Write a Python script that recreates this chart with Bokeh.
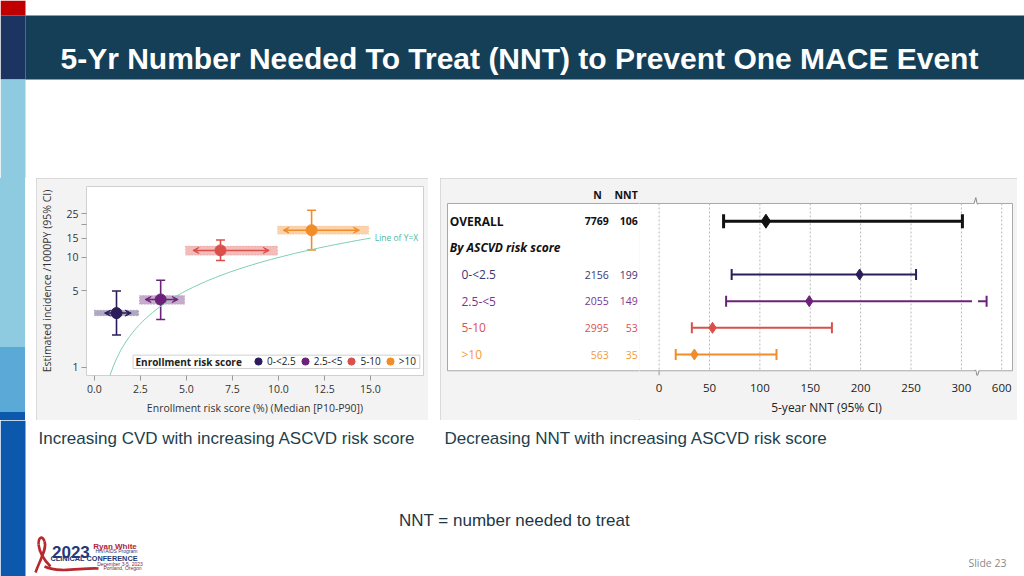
import numpy as np
from bokeh.plotting import figure
from bokeh.models import (Range1d, FixedTicker, Label, BoxAnnotation, Legend, LegendItem,
                          ColumnDataSource, Arrow, VeeHead, Spacer, NumeralTickFormatter,
                          BasicTickFormatter)
from bokeh.layouts import column, row
from bokeh.embed import file_html
from bokeh.resources import INLINE
from bokeh.core.properties import value

# ------------------------------------------------------------------ texts
TITLE = "5-Yr Number Needed To Treat (NNT) to Prevent One MACE Event"
caption_left = "Increasing CVD with increasing ASCVD risk score"
caption_right = "Decreasing NNT with increasing ASCVD risk score"
footnote = "NNT = number needed to treat"
slide_no = "Slide 23"

# ------------------------------------------------------------------ left chart data
risk_groups = ["0-<2.5", "2.5-<5", "5-10", ">10"]
median_risk = [1.2, 3.6, 6.85, 11.8]
p10_risk = [0.55, 2.75, 5.35, 10.25]
p90_risk = [2.0, 4.55, 9.5, 14.4]
incidence = [3.12, 4.15, 11.6, 17.7]
inc_ci_low = [1.97, 2.73, 9.4, 11.7]
inc_ci_high = [4.95, 6.2, 14.4, 26.9]
cloud_x_min = [0.0, 2.45, 4.95, 9.95]
cloud_x_max = [2.4, 4.9, 9.95, 14.9]
cloud_y_low = [2.95, 3.75, 10.5, 16.3]
cloud_y_high = [3.32, 4.5, 12.7, 19.3]
x_ticks_left = [0, 2.5, 5, 7.5, 10, 12.5, 15]
y_ticks_left = [1, 5, 10, 15, 20, 25]
identity_x = np.linspace(0.84, 15.0, 80)   # reference line Y = X

# ------------------------------------------------------------------ right chart data
fp_labels = ["OVERALL", "By ASCVD risk score", "0-<2.5", "2.5-<5", "5-10", ">10"]
fp_n_txt = ["7769", "", "2156", "2055", "2995", "563"]
fp_nnt_txt = ["106", "", "199", "149", "53", "35"]
fp_rows = [0, 2, 3, 4, 5]
fp_nnt = [106, 199, 149, 53, 35]
fp_lo = [64, 72, 66.5, 32.5, 16.5]
fp_hi = [301, 255, 540, 171.5, 116.5]
nnt_ticks = [0, 50, 100, 150, 200, 250, 300, 600]

# ------------------------------------------------------------------ styles
FONT = "Open Sans"
group_colors = ["#2b1d5c", "#6c2279", "#d9504a", "#f28c28"]
fp_colors = ["#111111", "#2b1d5c", "#6c2279", "#d9504a", "#f28c28"]
label_colors = ["#111111", "#111111", "#3b3576", "#7a3590", "#d9534f", "#f39a3a"]
PANEL = "#f3f3f3"
PANEL_STYLE = {"outline": "1px solid #d2d2d2", "outline-offset": "-1px"}
BOX_LINE = "#a8a8a8"

AXIS_BREAK = 315.0
BOX_TOP, BOX_BOTTOM = -0.664, 5.61       # inner white box of the forest plot (row units)
BOX_LEFT, BOX_RIGHT = -210.0, 350.7      # (axis units)
ROWS_RANGE = (5.787, -1.301)
SPLIT = -19.45                           # table | plot boundary (axis units)


def nnt_pos(v):
    """position on the broken NNT axis (segment above the break compressed)"""
    return v if v <= AXIS_BREAK else AXIS_BREAK + (v - 500.0) * 0.25


def deco_fig(w, h, xr, yr):
    f = figure(width=w, height=h, x_range=Range1d(*xr), y_range=Range1d(*yr),
               x_axis_type=None, y_axis_type=None, min_border=0,
               outline_line_color=None, toolbar_location=None, output_backend="svg",
               background_fill_color="white", border_fill_color="white")
    f.grid.visible = False
    return f


# ------------------------------------------------------------------ top band
pt = deco_fig(1024, 178, (0, 1024), (178, 0))
pt.quad(left=[0, 0, 0], right=[25, 25, 25], top=[0, 15, 79], bottom=[15, 79, 178],
        fill_color=["#c00000", "#1c3461", "#8fcbe0"], line_color=None)
pt.quad(left=[25], right=[1024], top=[15], bottom=[79], fill_color="#153f57", line_color=None)
pt.text(x=[60], y=[58], text=[TITLE], text_font=value("Liberation Sans"),
        text_font_style="bold", text_font_size="30px", text_color="white",
        text_baseline="alphabetic", text_align="left")

# ------------------------------------------------------------------ strip beside the charts
strip = Spacer(width=36, height=242, styles={
    "background-image": "linear-gradient(to bottom, #8fcbe0 0px, #8fcbe0 169px, "
                        "#5aa9d6 169px, #5aa9d6 234px, #0b58ad 234px, #0b58ad 242px)",
    "background-size": "25px 242px",
    "background-repeat": "no-repeat"})

# ------------------------------------------------------------------ left chart
pl = figure(width=392, height=242, x_range=Range1d(-0.43, 17.88), y_range=Range1d(0.845, 44.2),
            y_axis_type="log", output_backend="svg", toolbar_location=None,
            min_border_left=50, min_border_right=5, min_border_top=8, min_border_bottom=45,
            background_fill_color="white", border_fill_color=PANEL,
            outline_line_color="#d0d0d0", styles=PANEL_STYLE)
pl.grid.visible = False

src_l = ColumnDataSource(dict(x=median_risk, y=incidence, lo=inc_ci_low, hi=inc_ci_high,
                              color=group_colors, group=risk_groups))
pl.quad(left=cloud_x_min, right=cloud_x_max, bottom=cloud_y_low, top=cloud_y_high,
        fill_color=group_colors, fill_alpha=0.38, line_color=group_colors, line_alpha=0.3,
        line_dash="1 2")
for i, c in enumerate(group_colors):
    pl.add_layout(Arrow(start=VeeHead(size=6, line_color=c, fill_color=c, line_width=1),
                        end=VeeHead(size=6, line_color=c, fill_color=c, line_width=1),
                        x_start=p10_risk[i], y_start=incidence[i],
                        x_end=p90_risk[i], y_end=incidence[i],
                        line_color=c, line_width=1.5))
pl.segment(x0="x", y0="lo", x1="x", y1="hi", source=src_l, line_color="color", line_width=1.6)
pl.scatter(x=median_risk + median_risk, y=inc_ci_low + inc_ci_high, marker="dash", size=9,
           line_color=group_colors + group_colors, line_width=1.6)
r_pts = pl.scatter(x="x", y="y", source=src_l, size=11, fill_color="color", line_color="color")

pl.line(identity_x, identity_x, line_color="#7ccfb2", line_width=1)
pl.add_layout(Label(x=15.23, y=15.1, text="Line of Y=X", text_font=FONT, text_font_size="8.5px",
                    text_color="#4fb79a", text_baseline="middle"))

pl.add_layout(BoxAnnotation(left=2.10, right=17.68, bottom=0.979, top=1.294,
                            fill_color="white", fill_alpha=1, line_color="#cfcfcf",
                            line_width=1, line_alpha=1))
pl.add_layout(Label(x=2.23, y=1.127, text="Enrollment risk score", text_font=FONT,
                    text_font_size="10px", text_font_style="bold", text_color="#222222",
                    text_baseline="middle"))
legend = Legend(items=[LegendItem(label=g, renderers=[r_pts], index=i)
                       for i, g in enumerate(risk_groups)],
                orientation="horizontal", location=(163, 4), glyph_width=18, glyph_height=20,
                label_height=20, label_standoff=0, spacing=0, padding=0, margin=0,
                border_line_color=None, background_fill_alpha=0,
                label_text_font=FONT, label_text_font_size="10px",
                label_text_color="#222222", label_text_baseline="middle")
pl.add_layout(legend)

pl.xaxis.ticker = FixedTicker(ticks=x_ticks_left)
pl.xaxis.formatter = NumeralTickFormatter(format="0.0")
pl.yaxis.ticker = FixedTicker(ticks=y_ticks_left)
pl.yaxis.formatter = BasicTickFormatter()
pl.yaxis.major_label_overrides = {20: ""}
pl.xaxis.axis_label = "Enrollment risk score (%) (Median [P10-P90])"
pl.yaxis.axis_label = "Estimated incidence /1000PY (95% CI)"
for ax in (pl.xaxis, pl.yaxis):
    ax.axis_line_color = None
    ax.major_tick_in = 0
    ax.major_tick_out = 5
    ax.major_tick_line_color = "#9a9a9a"
    ax.minor_tick_line_color = None
    ax.major_label_text_font = FONT
    ax.major_label_text_font_size = "10.5px"
    ax.major_label_text_color = "#333333"
    ax.axis_label_text_font = FONT
    ax.axis_label_text_font_size = "10.5px"
    ax.axis_label_text_font_style = "normal"
    ax.axis_label_text_color = "#333333"
pl.xaxis.major_label_standoff = 4
pl.xaxis.axis_label_standoff = 5
pl.yaxis.major_label_standoff = 3
pl.yaxis.axis_label_standoff = 9

# ------------------------------------------------------------------ right chart: table part
ptab = figure(width=199, height=242, x_range=Range1d(-211.0, SPLIT), y_range=Range1d(*ROWS_RANGE),
              x_axis_location=None, y_axis_location=None, output_backend="svg",
              toolbar_location=None, min_border_left=6, min_border_right=0, min_border_top=8,
              min_border_bottom=45, background_fill_color=PANEL, border_fill_color=PANEL,
              outline_line_color=None)
ptab.grid.visible = False
ptab.quad(left=[BOX_LEFT], right=[SPLIT + 5], top=[BOX_TOP], bottom=[BOX_BOTTOM],
          fill_color="white", line_color=None)
ptab.segment(x0=[BOX_LEFT, BOX_LEFT, BOX_LEFT], x1=[SPLIT + 5, SPLIT + 5, BOX_LEFT],
             y0=[BOX_TOP, BOX_BOTTOM, BOX_TOP], y1=[BOX_TOP, BOX_BOTTOM, BOX_BOTTOM],
             line_color=BOX_LINE, line_width=1)
ptab.text(x=[-61.1], y=[-0.975], text=["N"], text_font=value(FONT), text_font_style="bold",
          text_font_size="10.5px", text_color="#111111", text_baseline="middle",
          text_align="center")
ptab.text(x=[-21.2], y=[-0.975], text=["NNT"], text_font=value(FONT), text_font_style="bold",
          text_font_size="10.5px", text_color="#111111", text_baseline="middle",
          text_align="right")
ptab.text(x=[-207.8], y=[0], text=[fp_labels[0]], text_font=value(FONT), text_font_style="bold",
          text_font_size="12px", text_color=label_colors[0], text_baseline="middle")
ptab.text(x=[-207.8], y=[1], text=[fp_labels[1]], text_font=value(FONT),
          text_font_style="bold italic", text_font_size="12px", text_color=label_colors[1],
          text_baseline="middle")
ptab.text(x=[-196.1] * 4, y=[2, 3, 4, 5], text=fp_labels[2:], text_font=value(FONT),
          text_font_size="12px", text_color=label_colors[2:], text_baseline="middle")
ptab.text(x=[-49.9], y=[0], text=[fp_n_txt[0]], text_font=value(FONT), text_font_style="bold",
          text_font_size="10.5px", text_color=label_colors[0], text_baseline="middle",
          text_align="right")
ptab.text(x=[-21.2], y=[0], text=[fp_nnt_txt[0]], text_font=value(FONT), text_font_style="bold",
          text_font_size="10.5px", text_color=label_colors[0], text_baseline="middle",
          text_align="right")
ptab.text(x=[-49.9] * 4, y=[2, 3, 4, 5], text=fp_n_txt[2:], text_font=value(FONT),
          text_font_size="10.5px", text_color=label_colors[2:], text_baseline="middle",
          text_align="right")
ptab.text(x=[-21.2] * 4, y=[2, 3, 4, 5], text=fp_nnt_txt[2:], text_font=value(FONT),
          text_font_size="10.5px", text_color=label_colors[2:], text_baseline="middle",
          text_align="right")

# ------------------------------------------------------------------ right chart: plot part
pf = figure(width=378, height=242, x_range=Range1d(SPLIT, 351.7), y_range=Range1d(*ROWS_RANGE),
            y_axis_location=None, output_backend="svg", toolbar_location=None,
            min_border_left=0, min_border_right=4, min_border_top=8, min_border_bottom=45,
            background_fill_color=PANEL, border_fill_color=PANEL, outline_line_color=None)
pf.grid.visible = False
tick_pos = [nnt_pos(v) for v in nnt_ticks]
pf.quad(left=[SPLIT - 5], right=[BOX_RIGHT], top=[BOX_TOP], bottom=[BOX_BOTTOM],
        fill_color="white", line_color=None)
pf.segment(x0=[SPLIT - 5, SPLIT - 5, BOX_RIGHT], x1=[BOX_RIGHT, BOX_RIGHT, BOX_RIGHT],
           y0=[BOX_TOP, BOX_BOTTOM, BOX_TOP], y1=[BOX_TOP, BOX_BOTTOM, BOX_BOTTOM],
           line_color=BOX_LINE, line_width=1)
pf.segment(x0=tick_pos, x1=tick_pos, y0=[BOX_TOP] * len(tick_pos),
           y1=[BOX_BOTTOM] * len(tick_pos), line_color="#b8b8b8", line_dash="2 2", line_width=1)
pf.segment(x0=[tick_pos[0]], x1=[tick_pos[0]], y0=[BOX_BOTTOM], y1=[ROWS_RANGE[0]],
           line_color="#9a9a9a", line_width=1)
pf.xaxis.ticker = FixedTicker(ticks=tick_pos)
pf.xaxis.major_label_overrides = {p: str(v) for p, v in zip(tick_pos, nnt_ticks)}
pf.xaxis.axis_label = "5-year NNT (95% CI)"
pf.xaxis.axis_line_color = None
pf.xaxis.major_tick_line_color = None
pf.xaxis.minor_tick_line_color = None
pf.xaxis.major_label_text_font = FONT
pf.xaxis.major_label_text_font_size = "11.5px"
pf.xaxis.major_label_text_color = "#222222"
pf.xaxis.major_label_standoff = 2
pf.xaxis.axis_label_text_font = FONT
pf.xaxis.axis_label_text_font_size = "12px"
pf.xaxis.axis_label_text_font_style = "normal"
pf.xaxis.axis_label_text_color = "#222222"
pf.xaxis.axis_label_standoff = 4

# CI lines, caps, point estimates
seg_x0, seg_x1, seg_y, seg_c, seg_w = [], [], [], [], []
cap_x, cap_y, cap_c, cap_w, cap_s = [], [], [], [], []
for k, (r, lo, hi, c) in enumerate(zip(fp_rows, fp_lo, fp_hi, fp_colors)):
    w = 3 if k == 0 else 2
    lo_d, hi_d = nnt_pos(lo), nnt_pos(hi)
    if hi > AXIS_BREAK:
        pieces = [(lo_d, AXIS_BREAK - 4.5), (AXIS_BREAK + 1.5, hi_d)]
    else:
        pieces = [(lo_d, hi_d)]
    for a, b in pieces:
        seg_x0.append(a); seg_x1.append(b); seg_y.append(r); seg_c.append(c); seg_w.append(w)
    for xx in (lo_d, hi_d):
        cap_x.append(xx); cap_y.append(r); cap_c.append(c); cap_w.append(w)
        cap_s.append(14 if k == 0 else 11)
pf.segment(x0=seg_x0, y0=seg_y, x1=seg_x1, y1=seg_y, line_color=seg_c, line_width=seg_w)
pf.scatter(x=cap_x, y=cap_y, marker="dash", angle=np.pi / 2, size=cap_s, line_color=cap_c,
           line_width=cap_w)
pf.scatter(x=[nnt_pos(v) for v in fp_nnt], y=fp_rows, marker="diamond",
           size=[14, 11, 11, 11, 11], fill_color=fp_colors, line_color=fp_colors)

# axis-break zigzags on the box edges
pf.segment(x0=[312.8, 312.8], x1=[317.2, 317.2], y0=[BOX_TOP, BOX_BOTTOM],
           y1=[BOX_TOP, BOX_BOTTOM], line_color="white", line_width=3)
pf.multi_line(xs=[[312.5, 314.3, 315.7, 317.5], [312.5, 314.3, 315.7, 317.5]],
              ys=[[BOX_TOP, BOX_TOP - 0.22, BOX_TOP + 0.02, BOX_TOP],
                  [BOX_BOTTOM, BOX_BOTTOM - 0.02, BOX_BOTTOM + 0.22, BOX_BOTTOM]],
              line_color="#8a8a8a", line_width=1)

right_panel = row(ptab, pf, styles=dict(PANEL_STYLE, **{"background-color": PANEL}))

# ------------------------------------------------------------------ bottom band
pb = deco_fig(1024, 156, (0, 1024), (576, 420))
pb.quad(left=[0], right=[25], top=[420], bottom=[576], fill_color="#0b58ad", line_color=None)
pb.text(x=[38, 444], y=[438, 438], text=[caption_left, caption_right],
        text_font=value("Liberation Sans"), text_font_size="17px", text_color="#213f4c",
        text_baseline="middle")
pb.text(x=[514], y=[520], text=[footnote], text_font=value("Liberation Sans"),
        text_font_size="17px", text_color="#1d3646", text_baseline="middle", text_align="center")
pb.text(x=[1006], y=[562], text=[slide_no], text_font=value(FONT), text_font_size="10.5px",
        text_color="#8a8a8a", text_baseline="middle", text_align="right")
# conference logo
pb.bezier(x0=[35, 44, 38, 44], y0=[572, 541, 544, 566], x1=[44, 38, 50, 98],
          y1=[541, 544, 566, 568], cx0=[39, 42, 39, 60], cy0=[560, 535, 552, 573],
          cx1=[47, 38, 44, 80], cy1=[548, 536, 560, 567], line_color="#b8282e", line_width=2.6)
pb.text(x=[51.5], y=[551.8], text=["2023"], text_font=value("Liberation Sans"),
        text_font_style="bold", text_font_size="17px", text_color="#1f3a78",
        text_baseline="alphabetic")
pb.text(x=[92.7], y=[545.8], text=["Ryan White"], text_font=value("Liberation Sans"),
        text_font_style="bold", text_font_size="8px", text_color="#b0243a",
        text_baseline="alphabetic")
pb.text(x=[95], y=[550.6], text=["HIV/AIDS Program"], text_font=value("Liberation Sans"),
        text_font_size="5px", text_color="#1f3a78", text_baseline="alphabetic")
pb.text(x=[50], y=[558.4], text=["CLINICAL CONFERENCE"], text_font=value("Liberation Sans"),
        text_font_style="bold", text_font_size="7.3px", text_color="#1f3a78",
        text_baseline="alphabetic")
pb.text(x=[96.7], y=[563.2], text=["December 3-5, 2023"], text_font=value("Liberation Sans"),
        text_font_size="5px", text_color="#7a2a3a", text_baseline="alphabetic")
pb.text(x=[103], y=[567.2], text=["Portland, Oregon"], text_font=value("Liberation Sans"),
        text_font_size="5px", text_color="#7a2a3a", text_baseline="alphabetic")

# ------------------------------------------------------------------ layout
middle = row(strip, pl, Spacer(width=12, height=242), right_panel, Spacer(width=7, height=242))
page = column(pt, middle, pb)

open("out.html", "w").write(file_html(page, INLINE))
